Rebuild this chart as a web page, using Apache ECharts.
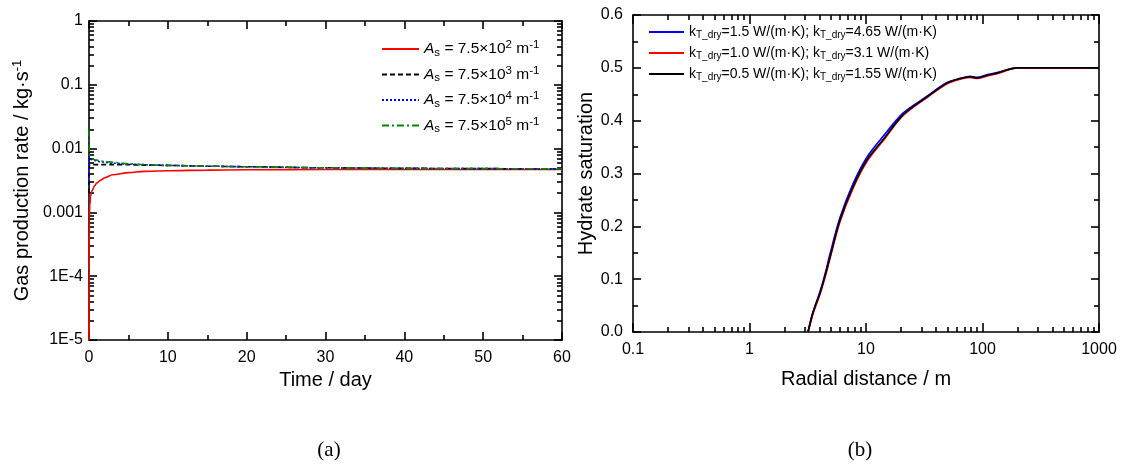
<!DOCTYPE html>
<html><head><meta charset="utf-8">
<script src="https://cdn.jsdelivr.net/npm/echarts@6/dist/echarts.min.js"></script>
<style>html,body{margin:0;padding:0;background:#fff}#c{width:1123px;height:469px}</style>
</head><body><div id="c"></div>
<script>
// ---- Panel (a): gas production rate vs time ----
const timeDays = [0, 0.02, 0.05, 0.1, 0.2, 0.4, 0.7, 1, 1.5, 2, 3, 5, 7, 10, 15, 20, 30, 40, 50, 60];
const rateAs2 = [1e-5, 1.2e-4, 8e-4, 1.3e-3, 1.8e-3, 2.2e-3, 2.6e-3, 2.9e-3, 3.2e-3, 3.5e-3, 3.9e-3, 4.2e-3, 4.4e-3, 4.5e-3, 4.6e-3, 4.65e-3, 4.7e-3, 4.7e-3, 4.7e-3, 4.7e-3];
const rateAs3 = [2.0e-3, 5.0e-3, 5.5e-3, 5.6e-3, 5.6e-3, 5.6e-3, 5.6e-3, 5.6e-3, 5.6e-3, 5.6e-3, 5.6e-3, 5.6e-3, 5.5e-3, 5.45e-3, 5.3e-3, 5.2e-3, 5.0e-3, 4.9e-3, 4.85e-3, 4.8e-3];
const rateAs4 = [3.0e-3, 7.5e-3, 7.3e-3, 7.1e-3, 6.9e-3, 6.7e-3, 6.5e-3, 6.4e-3, 6.2e-3, 6.1e-3, 5.9e-3, 5.7e-3, 5.6e-3, 5.45e-3, 5.3e-3, 5.2e-3, 5.0e-3, 4.9e-3, 4.85e-3, 4.8e-3];
const rateAs5 = [2.0e-2, 1.1e-2, 9.0e-3, 7.8e-3, 7.2e-3, 6.9e-3, 6.7e-3, 6.6e-3, 6.4e-3, 6.3e-3, 6.1e-3, 5.8e-3, 5.6e-3, 5.45e-3, 5.3e-3, 5.2e-3, 5.0e-3, 4.9e-3, 4.85e-3, 4.8e-3];
const timeTicks = [0, 10, 20, 30, 40, 50, 60];
const rateTicks = [1e-5, 1e-4, 1e-3, 1e-2, 1e-1, 1];

// ---- Panel (b): hydrate saturation vs radial distance ----
const radius = [3.18, 3.5, 4.03, 4.5, 4.91, 5.98, 7.73, 10.2, 14, 20.8, 33.4, 49.6, 65, 78, 90, 110, 133, 198, 300, 500, 1000];
const satK15 = [0, 0.037, 0.076, 0.113, 0.147, 0.216, 0.28, 0.331, 0.37, 0.414, 0.446, 0.472, 0.48, 0.484, 0.482, 0.487, 0.491, 0.5, 0.5, 0.5, 0.5];
const satK10 = [0, 0.034, 0.072, 0.108, 0.14, 0.209, 0.272, 0.323, 0.362, 0.41, 0.444, 0.47, 0.479, 0.482, 0.48, 0.485, 0.489, 0.5, 0.5, 0.5, 0.5];
const satK05 = [0, 0.036, 0.074, 0.11, 0.142, 0.212, 0.275, 0.326, 0.364, 0.411, 0.445, 0.471, 0.48, 0.483, 0.481, 0.486, 0.49, 0.5, 0.5, 0.5, 0.5];
const radiusTicks = [0.1, 1, 10, 100, 1000];

const legendA = {
  a2: '{i|A}{sub|s}{n| = 7.5×10}{sup|2}{n| m}{sup|-1}',
  a3: '{i|A}{sub|s}{n| = 7.5×10}{sup|3}{n| m}{sup|-1}',
  a4: '{i|A}{sub|s}{n| = 7.5×10}{sup|4}{n| m}{sup|-1}',
  a5: '{i|A}{sub|s}{n| = 7.5×10}{sup|5}{n| m}{sup|-1}'
};
const legendB = {
  k15: '{n|k}{sub|T_dry}{n|=1.5 W/(m·K); k}{sub|T_dry}{n|=4.65 W/(m·K)}',
  k10: '{n|k}{sub|T_dry}{n|=1.0 W/(m·K); k}{sub|T_dry}{n|=3.1 W/(m·K)}',
  k05: '{n|k}{sub|T_dry}{n|=0.5 W/(m·K); k}{sub|T_dry}{n|=1.55 W/(m·K)}'
};

function minorLog(lo, hi) {
  const out = [];
  for (let e = lo; e < hi; e++) for (let m = 2; m <= 9; m++) out.push(+(m * Math.pow(10, e)).toPrecision(3));
  return out;
}
const FONT = 'Liberation Sans';
const AX = { onZero: false, lineStyle: { color: '#000', width: 1.6 } };
const NOAX = { show: false, onZero: false };
const TICKLINE = { color: '#000', width: 1.6 };
const pair = (xs, ys) => xs.map((x, i) => [x, ys[i]]);
const logFmt = v => v < 0.0009 ? '1E' + Math.round(Math.log10(v)) : String(+v.toPrecision(3));

const chart = echarts.init(document.getElementById('c'), null, { renderer: 'canvas' });
const labelStyle = { fontFamily: FONT, fontSize: 16, color: '#000' };
const nameStyle = { fontFamily: FONT, fontSize: 20, color: '#000' };

function logAxisY(pos, labels, minor) {
  return {
    type: 'log', logBase: 10, gridIndex: 0, position: pos, min: 1e-5, max: 1,
    axisLine: minor ? NOAX : AX,
    axisTick: { show: true, inside: true, length: minor ? 5 : 8, lineStyle: TICKLINE,
      customValues: minor ? minorLog(-5, 0) : rateTicks },
    axisLabel: labels ? { show: true, ...labelStyle, margin: 6, formatter: logFmt, customValues: rateTicks } : { show: false },
    splitLine: { show: false }
  };
}
function logAxisX(pos, labels, minor) {
  return {
    type: 'log', logBase: 10, gridIndex: 1, position: pos, min: 0.1, max: 1000,
    axisLine: minor ? NOAX : AX,
    axisTick: { show: true, inside: true, length: minor ? 5 : 9, lineStyle: TICKLINE,
      customValues: minor ? minorLog(-1, 3) : radiusTicks },
    axisLabel: labels ? { show: true, ...labelStyle, margin: 10, formatter: v => String(+v.toPrecision(3)), customValues: radiusTicks } : { show: false },
    splitLine: { show: false }
  };
}
function linAxis(grid, pos, min, max, interval, labels, extra) {
  return Object.assign({
    type: 'value', gridIndex: grid, position: pos, min: min, max: max, interval: interval,
    axisLine: AX, axisTick: { inside: true, length: 8, lineStyle: TICKLINE },
    minorTick: { show: true, splitNumber: 2, length: 5, lineStyle: TICKLINE },
    axisLabel: labels ? labels : { show: false }, splitLine: { show: false }
  }, extra || {});
}

const option = {
  backgroundColor: '#fff',
  animation: false,
  title: [
    { text: '(a)', left: 329, top: 440, textAlign: 'center', padding: 0, textStyle: { fontFamily: 'Liberation Serif', fontSize: 21, fontWeight: 'normal', color: '#000' } },
    { text: '(b)', left: 860, top: 440, textAlign: 'center', padding: 0, textStyle: { fontFamily: 'Liberation Serif', fontSize: 21, fontWeight: 'normal', color: '#000' } }
  ],
  grid: [
    { left: 89, top: 21, width: 473, height: 319 },
    { left: 633, top: 15, width: 466, height: 317 }
  ],
  legend: [
    {
      data: ['a2', 'a3', 'a4', 'a5'], orient: 'vertical', left: 381, top: 39, itemGap: 5.5,
      itemWidth: 37, itemHeight: 1, align: 'left', padding: 0,
      itemStyle: { opacity: 0 },
      formatter: n => legendA[n],
      textStyle: { fontFamily: FONT, color: '#000', lineHeight: 20,
        rich: { n: { fontFamily: FONT, fontSize: 15.5, lineHeight: 20 }, i: { fontFamily: FONT, fontSize: 15.5, fontStyle: 'italic', lineHeight: 20 },
          sub: { fontFamily: FONT, fontSize: 11.5, padding: [7, 0, 0, 0], lineHeight: 20 }, sup: { fontFamily: FONT, fontSize: 11.5, padding: [0, 0, 8, 0], lineHeight: 20 } } }
    },
    {
      data: ['k15', 'k10', 'k05'], orient: 'vertical', left: 648, top: 24, itemGap: 5,
      itemWidth: 35, itemHeight: 1, align: 'left', padding: 0,
      itemStyle: { opacity: 0 },
      formatter: n => legendB[n],
      textStyle: { fontFamily: FONT, color: '#000', lineHeight: 16,
        rich: { n: { fontFamily: FONT, fontSize: 14, lineHeight: 16 }, sub: { fontFamily: FONT, fontSize: 10, padding: [6, 0, 0, 0], lineHeight: 16 } } }
    }
  ],
  xAxis: [
    linAxis(0, 'bottom', 0, 60, 10, { ...labelStyle, margin: 10 },
      { name: 'Time / day', nameLocation: 'middle', nameGap: 30, nameTextStyle: nameStyle }),
    linAxis(0, 'top', 0, 60, 10, null),
    Object.assign(logAxisX('bottom', true, false), { name: 'Radial distance / m', nameLocation: 'middle', nameGap: 37, nameTextStyle: nameStyle }),
    logAxisX('top', false, false),
    logAxisX('bottom', false, true),
    logAxisX('top', false, true)
  ],
  yAxis: [
    Object.assign(logAxisY('left', true, false), {
      name: '{n|Gas production rate / kg·s}{sup|-1}', nameLocation: 'middle', nameGap: 55,
      nameTextStyle: { ...nameStyle, rich: { n: { fontFamily: FONT, fontSize: 20, color: '#000' }, sup: { fontFamily: FONT, fontSize: 13, color: '#000', padding: [0, 0, 10, 0] } } } }),
    logAxisY('right', false, false),
    logAxisY('left', false, true),
    logAxisY('right', false, true),
    linAxis(1, 'left', 0, 0.6, 0.1, { ...labelStyle, margin: 10, formatter: v => v.toFixed(1) },
      { name: 'Hydrate saturation', nameLocation: 'middle', nameGap: 36, nameTextStyle: nameStyle }),
    linAxis(1, 'right', 0, 0.6, 0.1, null)
  ],
  series: [
    { name: 'a2', type: 'line', xAxisIndex: 0, yAxisIndex: 0, data: pair(timeDays, rateAs2), showSymbol: false, symbol: 'none', smooth: 0.3, smoothMonotone: 'x',
      lineStyle: { color: '#ff0000', width: 1.6, type: 'solid' }, itemStyle: { color: '#ff0000' } },
    { name: 'a3', type: 'line', xAxisIndex: 0, yAxisIndex: 0, data: pair(timeDays, rateAs3), showSymbol: false, symbol: 'none', smooth: 0.3, smoothMonotone: 'x',
      lineStyle: { color: '#000000', width: 1.6, type: [5, 3] }, itemStyle: { color: '#000000' } },
    { name: 'a4', type: 'line', xAxisIndex: 0, yAxisIndex: 0, data: pair(timeDays, rateAs4), showSymbol: false, symbol: 'none', smooth: 0.3, smoothMonotone: 'x',
      lineStyle: { color: '#0000ff', width: 1.6, type: [2, 2] }, itemStyle: { color: '#0000ff' } },
    { name: 'a5', type: 'line', xAxisIndex: 0, yAxisIndex: 0, data: pair(timeDays, rateAs5), showSymbol: false, symbol: 'none', smooth: 0.3, smoothMonotone: 'x',
      lineStyle: { color: '#008800', width: 1.6, type: [7, 3, 2, 3] }, itemStyle: { color: '#008800' } },
    { name: 'k15', type: 'line', xAxisIndex: 2, yAxisIndex: 4, data: pair(radius, satK15), showSymbol: false, symbol: 'none', smooth: 0.3,
      lineStyle: { color: '#0000ff', width: 1.8 }, itemStyle: { color: '#0000ff' } },
    { name: 'k10', type: 'line', xAxisIndex: 2, yAxisIndex: 4, data: pair(radius, satK10), showSymbol: false, symbol: 'none', smooth: 0.3,
      lineStyle: { color: '#ff0000', width: 1.8 }, itemStyle: { color: '#ff0000' } },
    { name: 'k05', type: 'line', xAxisIndex: 2, yAxisIndex: 4, data: pair(radius, satK05), showSymbol: false, symbol: 'none', smooth: 0.3,
      lineStyle: { color: '#000000', width: 1.6 }, itemStyle: { color: '#000000' } }
  ]
};
chart.setOption(option);
</script>
</body></html>
